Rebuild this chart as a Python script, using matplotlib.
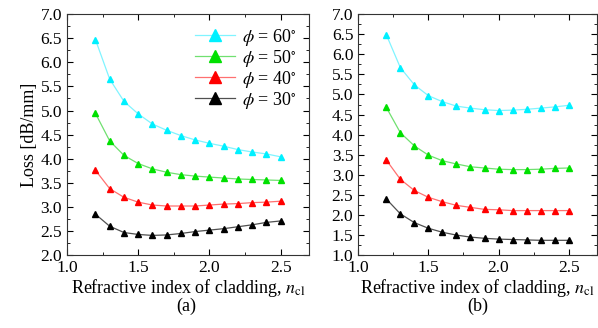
import matplotlib
matplotlib.use('Agg')
import matplotlib.pyplot as plt
from matplotlib.ticker import MultipleLocator

plt.rcParams['font.family'] = ['Liberation Serif', 'DejaVu Serif']
plt.rcParams['mathtext.fontset'] = 'stix'

# refractive index of cladding
n_cl = [1.2, 1.3, 1.4, 1.5, 1.6, 1.7, 1.8, 1.9, 2.0, 2.1, 2.2, 2.3, 2.4, 2.5]

# panel (a)
a_60 = [6.47, 5.65, 5.19, 4.93, 4.72, 4.59, 4.48, 4.39, 4.32, 4.26, 4.19, 4.14, 4.10, 4.04]
a_50 = [4.94, 4.37, 4.07, 3.90, 3.79, 3.72, 3.67, 3.64, 3.62, 3.60, 3.58, 3.57, 3.56, 3.55]
a_40 = [3.76, 3.38, 3.20, 3.10, 3.04, 3.02, 3.02, 3.02, 3.04, 3.06, 3.07, 3.09, 3.10, 3.12]
a_30 = [2.85, 2.60, 2.47, 2.43, 2.41, 2.42, 2.45, 2.49, 2.52, 2.55, 2.59, 2.63, 2.68, 2.71]

# panel (b)
b_60 = [6.49, 5.67, 5.24, 4.97, 4.82, 4.71, 4.66, 4.62, 4.60, 4.61, 4.63, 4.66, 4.69, 4.73]
b_50 = [4.68, 4.05, 3.72, 3.49, 3.35, 3.27, 3.20, 3.17, 3.14, 3.13, 3.13, 3.14, 3.16, 3.17]
b_40 = [3.37, 2.89, 2.61, 2.44, 2.33, 2.24, 2.19, 2.14, 2.13, 2.11, 2.11, 2.11, 2.11, 2.11]
b_30 = [2.40, 2.03, 1.81, 1.67, 1.57, 1.50, 1.45, 1.42, 1.40, 1.39, 1.38, 1.37, 1.37, 1.37]

labels = [r'$\phi$ = 60$^{\circ}$', r'$\phi$ = 50$^{\circ}$', r'$\phi$ = 40$^{\circ}$', r'$\phi$ = 30$^{\circ}$']
colors = ['#00f0ff', '#00e000', '#ff0000', '#000000']
line_colors = ['#80f4ff', '#70e070', '#ff7070', '#505050']

fig = plt.figure(figsize=(5.98, 3.28), dpi=100)
ax1 = fig.add_axes([0.112, 0.222, 0.405, 0.735])
ax2 = fig.add_axes([0.599, 0.222, 0.399, 0.735])

def draw(ax, series, ylim):
    for ys, c, lc, lab in zip(series, colors, line_colors, labels):
        ax.plot(n_cl, ys, color=lc, lw=0.9, marker='^', ms=5,
                markerfacecolor=c, markeredgecolor=c, label=lab)
    ax.set_xlim(1.0, 2.7)
    ax.set_ylim(*ylim)
    ax.xaxis.set_major_locator(MultipleLocator(0.5))
    ax.xaxis.set_minor_locator(MultipleLocator(0.25))
    ax.yaxis.set_major_locator(MultipleLocator(0.5))
    ax.yaxis.set_minor_locator(MultipleLocator(0.25))
    ax.tick_params(which='both', direction='in', top=True, right=True, labelsize=12.5)
    ax.tick_params(which='major', length=4)
    ax.tick_params(which='minor', length=2.5)
    ax.xaxis.set_major_formatter(plt.FormatStrFormatter('%.1f'))
    ax.yaxis.set_major_formatter(plt.FormatStrFormatter('%.1f'))
    for s in ax.spines.values():
        s.set_linewidth(0.8)
        s.set_color('#333333')
    ax.set_xlabel(r'Refractive index of cladding, $n_{\mathrm{cl}}$', fontsize=13, labelpad=1)

draw(ax1, [a_60, a_50, a_40, a_30], (2.0, 7.0))
draw(ax2, [b_60, b_50, b_40, b_30], (1.0, 7.0))

ax1.set_ylabel('Loss [dB/mm]', fontsize=13, labelpad=2)
leg = ax1.legend(loc='upper right', frameon=False, fontsize=13, markerscale=1.8,
                 handlelength=2.2, labelspacing=0.0, borderaxespad=0.3, handletextpad=0.4)

fig.text(0.312, 0.065, '(a)', ha='center', va='center', fontsize=13)
fig.text(0.799, 0.065, '(b)', ha='center', va='center', fontsize=13)

fig.savefig('out.png', dpi=100)
